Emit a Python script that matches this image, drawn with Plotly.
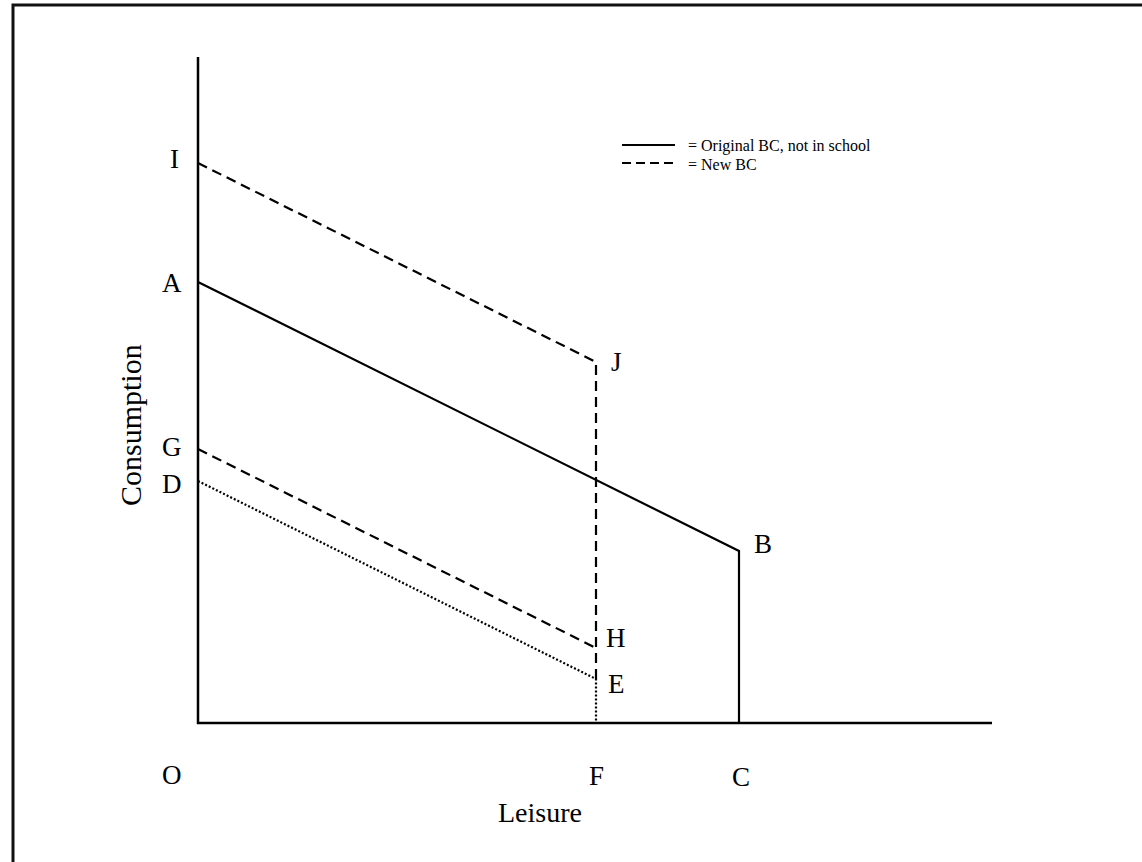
import plotly.graph_objects as go

# ---- data (arbitrary units, origin O at 0,0) ----
leisure_F = 398          # point F on leisure axis
leisure_C = 541          # point C on leisure axis
leisure_max = 794        # end of leisure axis
consumption_max = 666    # top of consumption axis

orig_bc_x = [0, leisure_C, leisure_C]        # A -> B -> C
orig_bc_y = [441, 172, 0]

new_bc_top_x = [0, leisure_F, leisure_F]     # I -> J -> E
new_bc_top_y = [560, 361, 44]

new_bc_low_x = [0, leisure_F]                # G -> H
new_bc_low_y = [274, 75]

school_bc_x = [0, leisure_F, leisure_F]      # D -> E -> F
school_bc_y = [242, 44, 0]

point_labels = ["I", "A", "G", "D", "J", "H", "E", "B", "O", "F", "C"]
point_x = [0, 0, 0, 0, leisure_F, leisure_F, leisure_F, leisure_C, 0, leisure_F, leisure_C]
point_y = [560, 441, 274, 242, 361, 75, 44, 172, 0, 0, 0]

legend_labels = ["= Original BC, not in school", "= New BC"]

# ---- figure ----
W, H = 1142, 862
ox, oy = 198, 723  # pixel position of origin

fig = go.Figure()
black = "black"
serif = "Liberation Serif, Times New Roman, serif"

# axes
fig.add_trace(go.Scatter(x=[0, 0, leisure_max], y=[consumption_max, 0, 0], mode="lines",
                         line=dict(color=black, width=2.5), hoverinfo="skip"))
# original BC
fig.add_trace(go.Scatter(x=orig_bc_x, y=orig_bc_y, mode="lines",
                         line=dict(color=black, width=2.2), hoverinfo="skip"))
# new BC upper
fig.add_trace(go.Scatter(x=new_bc_top_x, y=new_bc_top_y, mode="lines",
                         line=dict(color=black, width=2.2, dash="10px,6px"), hoverinfo="skip"))
# new BC lower
fig.add_trace(go.Scatter(x=new_bc_low_x, y=new_bc_low_y, mode="lines",
                         line=dict(color=black, width=2.2, dash="10px,6px"), hoverinfo="skip"))
# in-school BC (dotted)
fig.add_trace(go.Scatter(x=school_bc_x, y=school_bc_y, mode="lines",
                         line=dict(color=black, width=2.2, dash="2px,2px"), hoverinfo="skip"))

# point labels
offsets = {
    "I": (-24, 4), "A": (-26, -1), "G": (-26, 2), "D": (-26, -3),
    "J": (20, 0), "H": (20, 10), "E": (20, -5), "B": (24, 7),
    "O": (-26, -52), "F": (0, -53), "C": (2, -54),
}
for lab, px, py in zip(point_labels, point_x, point_y):
    dx, dy = offsets[lab]
    fig.add_annotation(x=px + dx, y=py + dy, text=lab, showarrow=False,
                       font=dict(family=serif, size=27, color=black),
                       xanchor="center", yanchor="middle")

# axis titles
fig.add_annotation(x=-68, y=298, text="Consumption", textangle=-90, showarrow=False,
                   font=dict(family=serif, size=30, color=black))
fig.add_annotation(x=leisure_F - 56, y=-89, text="Leisure", showarrow=False,
                   font=dict(family=serif, size=28, color=black))

# legend (manual)
leg_x0, leg_x1 = 424, 477
fig.add_shape(type="line", x0=leg_x0, x1=leg_x1, y0=578, y1=578,
              line=dict(color=black, width=2.2))
fig.add_shape(type="line", x0=leg_x0, x1=leg_x1, y0=560, y1=560,
              line=dict(color=black, width=2.2, dash="9px,5px"))
fig.add_annotation(x=488, y=577, text=legend_labels[0], showarrow=False, xanchor="left",
                   font=dict(family=serif, size=16, color=black))
fig.add_annotation(x=488, y=559, text=legend_labels[1], showarrow=False, xanchor="left",
                   font=dict(family=serif, size=16, color=black))

# outer frame
fig.add_shape(type="rect", xref="paper", yref="paper",
              x0=13 / W, x1=1.2, y0=-0.2, y1=1 - 5 / H,
              line=dict(color="#111", width=3))

fig.update_layout(
    width=W, height=H, margin=dict(l=0, r=0, t=0, b=0),
    paper_bgcolor="white", plot_bgcolor="white", showlegend=False,
    xaxis=dict(range=[-ox, W - ox], visible=False, fixedrange=True),
    yaxis=dict(range=[oy - H, oy], visible=False, fixedrange=True),
)

fig.write_html("out.html", config={"displayModeBar": False},
               post_script="document.body.style.margin='0';document.body.style.overflow='hidden';")
